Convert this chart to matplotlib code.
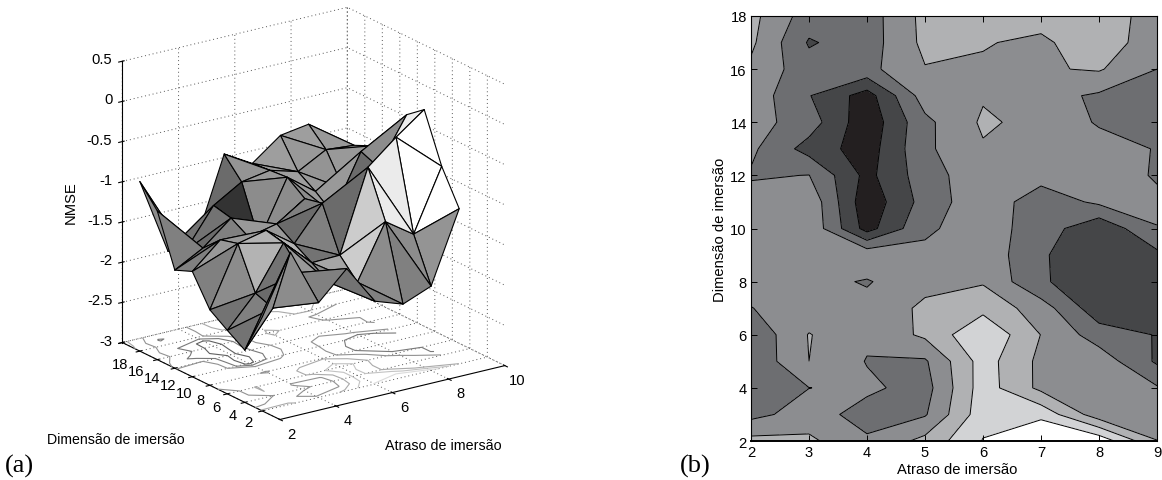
import matplotlib
matplotlib.use('Agg')
import matplotlib.pyplot as plt
from mpl_toolkits.mplot3d import proj3d
import numpy as np

FONT = 'Liberation Sans'
plt.rcParams['font.family'] = FONT
plt.rcParams['font.size'] = 10.6
plt.rcParams['grid.linestyle'] = (0, (1, 3))
plt.rcParams['grid.linewidth'] = 0.7
plt.rcParams['grid.color'] = '#555555'

# contour data, columns are atraso 2..9, rows are dimensao 18 down to 2
ATRASO = [2, 3, 4, 5, 6, 7, 8, 9]
DIMENSAO = [18, 17, 16, 15, 14, 13, 12, 11, 10, 9, 8, 7, 6, 5, 4, 3, 2]
CONTOUR_VALUES = [
    [4.3, 2.5, 2.5, 4.3, 4.5, 4.3, 4.5, 3.6],
    [4.2, 1.9, 2.5, 4.25, 4.05, 3.85, 4.5, 3.5],
    [3.8, 2.4, 2.7, 3.95, 3.9, 3.9, 4.1, 3.0],
    [3.6, 2.05, 0.55, 3.5, 3.9, 3.35, 2.85, 2.6],
    [3.4, 2.5, 0.3, 2.75, 4.15, 3.7, 2.9, 2.5],
    [3.2, 1.6, 0.5, 2.8, 3.9, 3.7, 3.4, 2.95],
    [2.9, 3.02, 0.7, 2.55, 3.65, 3.4, 3.55, 2.9],
    [3.4, 3.75, 0.3, 2.4, 3.7, 2.4, 3.2, 3.2],
    [3.5, 3.8, 0.6, 2.85, 3.45, 2.55, 1.2, 2.97],
    [3.4, 3.7, 3.75, 3.2, 3.7, 2.1, 1.4, 1.75],
    [3.3, 3.3, 2.92, 3.7, 3.9, 2.1, 1.5, 1.3],
    [2.98, 3.4, 3.3, 4.2, 4.7, 3.5, 1.35, 1.3],
    [2.2, 4.05, 3.2, 4.2, 5.9, 3.98, 2.5, 1.95],
    [2.2, 4.0, 2.95, 2.87, 5.45, 3.75, 3.6, 1.85],
    [2.4, 2.99, 3.2, 2.6, 5.5, 3.75, 3.5, 3.1],
    [2.7, 3.45, 2.6, 2.9, 5.6, 5.7, 3.4, 3.2],
    [4.3, 4.2, 3.15, 4.3, 6.05, 7.2, 6.7, 4.03],
]
LEVELS = [0, 1, 2, 3, 4, 5, 6, 8]
BAND_COLOURS = ['#231f20', '#454648', '#6d6e71', '#8c8d90',
                '#b0b1b3', '#d2d3d5', '#ffffff']

# surface data, NMSE
SURF_ATRASO = [2, 3, 4, 5, 6, 7, 8, 9]
SURF_DIM = [16, 14, 12, 10, 8, 6, 4, 2]
SURF_NMSE = [
    [-0.89, -1.84, -1.80, -0.80, -1.00, -0.735, -0.68, -1.27],
    [-1.15, -1.73, -1.25, -1.04, -0.98, -1.08, -0.89, -0.92],
    [-1.78, -1.59, -1.30, -1.66, -0.96, -1.22, -1.27, -0.82],
    [-1.69, -1.38, -1.43, -1.35, -1.12, -1.39, -0.70, -0.62],
    [-2.06, -1.32, -1.24, -1.49, -1.07, -1.77, -0.79, -0.22],
    [-2.21, -1.83, -1.29, -1.62, -1.61, -0.60, -0.31, -0.05],
    [-2.35, -1.91, -1.55, -1.76, -1.84, -1.17, -1.41, -0.65],
    [-1.83, -1.11, -1.82, -1.48, -1.97, -2.09, -1.95, -1.07],
]
# grey of the two triangles in each grid cell
GREY_UPPER = [
    [.55, .50, .42, .62, .62, .62, .62],
    [.50, .45, .20, .60, .62, .58, .62],
    [.45, .50, .42, .55, .60, .65, .55],
    [.60, .55, .60, .50, .45, .42, .62],
    [.55, .70, .70, .50, .42, .75, .93],
    [.50, .45, .55, .65, .80, .92, 1.0],
    [.55, .60, .60, .50, .55, .55, 1.0],
]
GREY_LOWER = [
    [.55, .45, .42, .58, .60, .60, .60],
    [.50, .42, .20, .55, .60, .60, .60],
    [.50, .50, .60, .50, .55, .60, .50],
    [.50, .60, .65, .42, .50, .45, .55],
    [.45, .70, .50, .45, .42, .70, .93],
    [.45, .42, .60, .55, .80, .92, 1.0],
    [.40, .55, .50, .45, .50, .50, .58],
]

XTICKS_3D = [2, 4, 6, 8, 10]
YTICKS_3D = [2, 4, 6, 8, 10, 12, 14, 16, 18]
ZTICKS_3D = [-3, -2.5, -2, -1.5, -1, -0.5, 0, 0.5]
ZTICK_LABELS = ['-3', '-2.5', '-2', '-1.5', '-1', '-0.5', '0', '0.5']

W, H = 1162, 481


def draw_surface(fig):
    ax = fig.add_axes([(307.5 - 225) / W, (H - 220.5 - 225) / H, 450 / W, 450 / H],
                      projection='3d')
    ax.set_proj_type('ortho')
    ax.view_init(elev=20, azim=-125)
    ax.set_box_aspect((1, 1, 1.09), zoom=1.058)
    ax.computed_zorder = False
    ax.patch.set_alpha(0)

    # floor contours first, the surface goes over them
    gx, gy = np.meshgrid(ATRASO, DIMENSAO)
    ax.contour(gx, gy, np.array(CONTOUR_VALUES), levels=LEVELS[1:-1],
               zdir='z', offset=-3, cmap='gray', vmin=-3, vmax=7.5,
               linewidths=0.8, zorder=1)

    # grid nodes joined into triangles
    sx, sy = np.meshgrid(SURF_ATRASO, SURF_DIM)
    n_rows, n_cols = sx.shape
    tris = []
    greys = []
    for j in range(n_rows - 1):
        for i in range(n_cols - 1):
            a = j * n_cols + i
            tris.append([a, a + 1, a + n_cols + 1])
            greys.append(str(GREY_UPPER[j][i]))
            tris.append([a, a + n_cols, a + n_cols + 1])
            greys.append(str(GREY_LOWER[j][i]))
    surf = ax.plot_trisurf(sx.ravel(), sy.ravel(), np.array(SURF_NMSE).ravel(),
                           triangles=tris, color='0.5', shade=False,
                           edgecolor='black', linewidth=0.8, zorder=2)
    surf.set_facecolor(greys)
    surf.set_edgecolor('black')

    ax.set_xlim(2, 10, view_margin=0)
    ax.set_ylim(0, 18, view_margin=0)
    ax.set_zlim(-3, 0.5, view_margin=0)
    ax.set_xticks(XTICKS_3D)
    ax.set_yticks(YTICKS_3D)
    ax.set_zticks(ZTICKS_3D)
    # default 3d tick labels sit too far off the box, they are put on below
    ax.set_xticklabels([])
    ax.set_yticklabels([])
    ax.set_zticklabels([])
    for axis in (ax.xaxis, ax.yaxis, ax.zaxis):
        axis.set_pane_color((1, 1, 1, 0))
        axis.pane.set_edgecolor((1, 1, 1, 0))
        axis.line.set_color('black')
        axis.line.set_linewidth(0.8)
    return ax


def label_at(fig, ax, point, dx, dy, text, ha='center'):
    """Write text dx, dy pixels away from where a 3d point lands on the figure"""
    x2, y2, _ = proj3d.proj_transform(*point, ax.get_proj())
    px, py = ax.transData.transform((x2, y2))
    fig.text((px + dx) / W, (py - dy) / H, text, fontsize=10.6, ha=ha,
             va='center')


def label_surface_ticks(fig, ax):
    fig.canvas.draw()  # axes position is only final after a draw
    for v in XTICKS_3D:
        label_at(fig, ax, (v, 0, -3), 12, 14, str(v))
    for v in YTICKS_3D:
        # labels run a bit tighter than the ticks in the reference
        label_at(fig, ax, (2, v, -3), -2 - 12 * (18 - v) / 16,
                 21 - 10 * (18 - v) / 16, str(v))
    for v, label in zip(ZTICKS_3D, ZTICK_LABELS):
        label_at(fig, ax, (2, 18, v), -10, -2, label, ha='right')


def draw_contour(fig):
    ax = fig.add_axes([751 / W, 1 - 442 / H, 406 / W, 425 / H])
    gx, gy = np.meshgrid(ATRASO, DIMENSAO)
    values = np.array(CONTOUR_VALUES)
    ax.contourf(gx, gy, values, levels=LEVELS, colors=BAND_COLOURS)
    ax.contour(gx, gy, values, levels=LEVELS[1:-1], colors='black',
               linewidths=0.7)
    ax.set_xlim(2, 9)
    ax.set_ylim(2, 18)
    ax.set_xticks(ATRASO)
    ax.set_yticks([2, 4, 6, 8, 10, 12, 14, 16, 18])
    ax.tick_params(direction='in', top=True, right=True, length=4, width=0.7,
                   labelsize=10.6, pad=3)
    for spine in ax.spines.values():
        spine.set_linewidth(0.8)
    ax.spines['bottom'].set_linewidth(1.4)
    ax.set_ylabel('Dimensão de imersão', fontsize=10.6, labelpad=2)


fig = plt.figure(figsize=(W / 100, H / 100), dpi=100)
ax3d = draw_surface(fig)
draw_contour(fig)
label_surface_ticks(fig, ax3d)

fig.text(47 / W, 1 - 440 / H, 'Dimensão de imersão', fontsize=10.2, va='center')
fig.text(385 / W, 1 - 446 / H, 'Atraso de imersão', fontsize=10.3, va='center')
fig.text(957 / W, 1 - 470 / H, 'Atraso de imersão', fontsize=10.6, ha='center',
         va='center')
fig.text(71 / W, 1 - 203 / H, 'NMSE', fontsize=10.6, rotation=90,
         ha='center', va='center')
fig.text(5 / W, 1 - 466 / H, '(a)', family='Liberation Serif', fontsize=19,
         va='center')
fig.text(680 / W, 1 - 466 / H, '(b)', family='Liberation Serif', fontsize=19,
         va='center')

fig.savefig('out.png', dpi=100)
